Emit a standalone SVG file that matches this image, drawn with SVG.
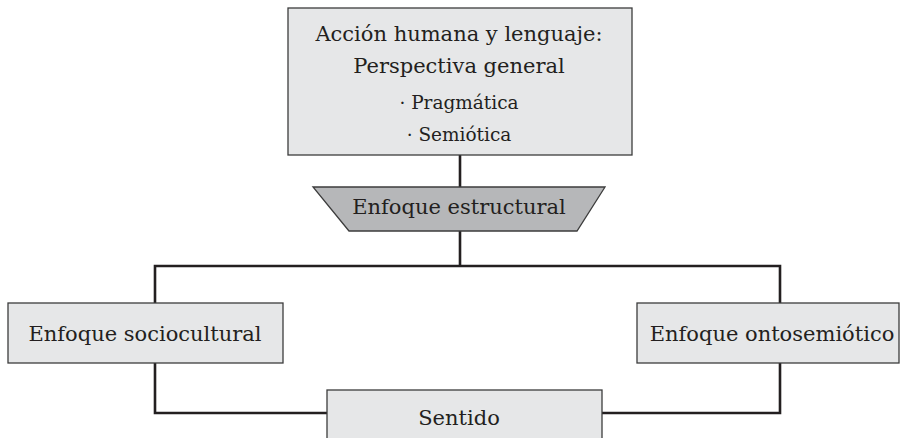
<svg xmlns="http://www.w3.org/2000/svg" width="901" height="438" viewBox="0 0 901 438">
<style>
.box{fill:#e6e7e8;stroke:#3c3c3c;stroke-width:1.3}
.trap{fill:#b6b7b9;stroke:#3c3c3c;stroke-width:1.3}
.t{font-family:"DejaVu Serif","Liberation Serif",serif;font-size:21px;fill:#231f20;text-anchor:middle}
.s{font-size:18.5px}
.conn{fill:none;stroke:#231f20;stroke-width:2.6}
</style>
<rect width="901" height="438" fill="#ffffff"/>
<g id="connectors">
<line class="conn" x1="460" y1="155" x2="460" y2="187"/>
<line class="conn" x1="460" y1="231" x2="460" y2="266"/>
<polyline class="conn" points="155,303 155,266 780,266 780,303"/>
<polyline class="conn" points="155,363 155,413 327,413"/>
<polyline class="conn" points="780,363 780,413 602,413"/>
</g>
<g id="node-accion">
<rect class="box" x="288" y="8" width="344" height="147"/>
<text class="t" x="459" y="41">Acción humana y lenguaje:</text>
<text class="t" x="459" y="73">Perspectiva general</text>
<text class="t s" x="459" y="109">· Pragmática</text>
<text class="t s" x="459" y="141">· Semiótica</text>
</g>
<g id="node-estructural">
<polygon class="trap" points="313,187 605,187 577,231 349,231"/>
<text class="t" x="459" y="214">Enfoque estructural</text>
</g>
<g id="node-sociocultural">
<rect class="box" x="8" y="303" width="275" height="60"/>
<text class="t" x="145" y="341">Enfoque sociocultural</text>
</g>
<g id="node-ontosemiotico">
<rect class="box" x="637" y="303" width="262" height="60"/>
<text class="t" x="772" y="341">Enfoque ontosemiótico</text>
</g>
<g id="node-sentido">
<rect class="box" x="327" y="390" width="275" height="60"/>
<text class="t" x="459" y="425">Sentido</text>
</g>
</svg>
